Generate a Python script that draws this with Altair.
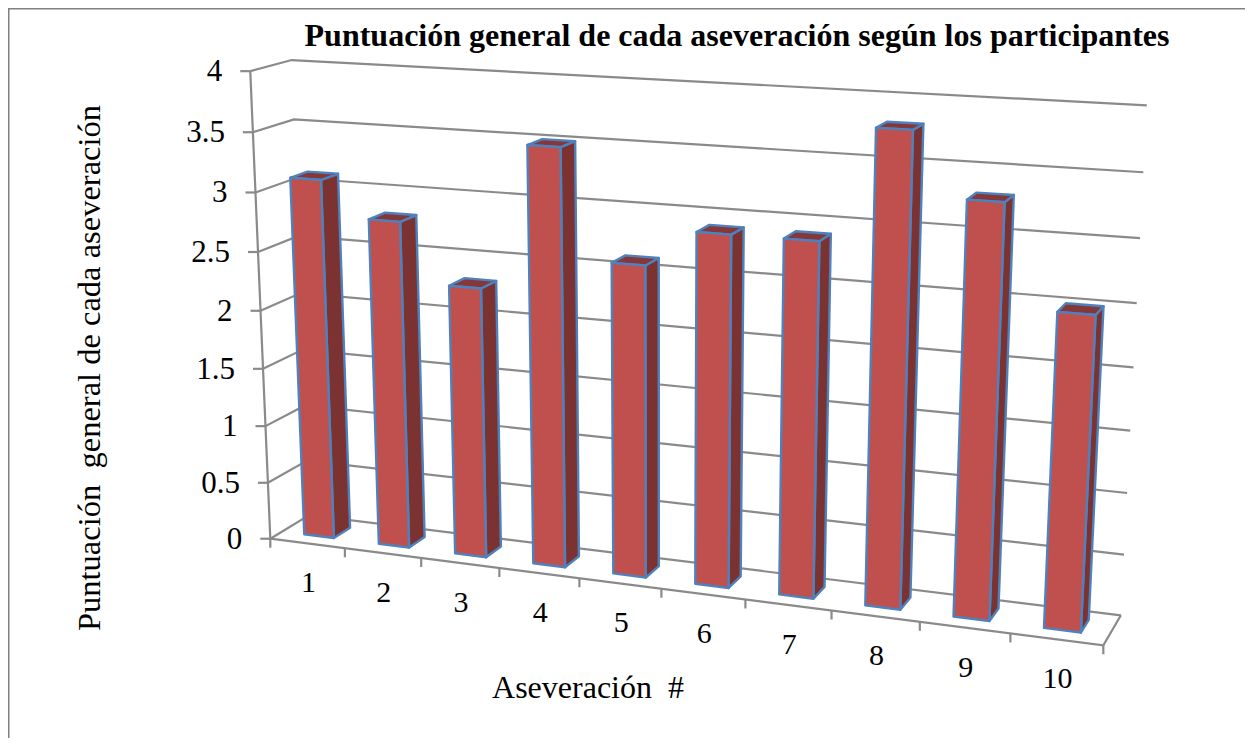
import altair as alt
import numpy as np
import pandas as pd

categories = ["1", "2", "3", "4", "5", "6", "7", "8", "9", "10"]
scores = [3.10, 2.80, 2.30, 3.50, 2.60, 2.90, 2.90, 3.80, 3.30, 2.50]
ticks = [0, 0.5, 1, 1.5, 2, 2.5, 3, 3.5, 4]
tick_labels = ["0", "0.5", "1", "1.5", "2", "2.5", "3", "3.5", "4"]
TITLE = "Puntuación general de cada aseveración según los participantes"
XTITLE = "Aseveración\u00a0 #"
YTITLE = "Puntuación\u00a0 general de cada aseveración"

W, H = 1237, 730   # plot area; page pixels are offset by the 8px margin
OFF = 8

# camera for the 3D look: (category, value, depth) -> page pixel
_cal = [
    ((0, 0, 0), (272.7, 537.3)), ((0, 4, 0), (248.3, 71.7)),
    ((0, 3.5, 0), (251.7, 132.3)), ((0, 3, 0), (255.3, 192.3)),
    ((0, 0, 1), (306, 516.7)), ((0, 4, 1), (293.3, 60)),
    ((0, 3.5, 1), (295.7, 119)),
    ((10, 0, 1), (1121, 614)), ((10, 4, 1), (1146.7, 105.3)),
    ((10, 3.5, 1), (1143.3, 172.3)),
    ((10, 0, 0), (1103.3, 646.7)), ((1, 0, 0), (345.7, 548)),
]
_A, _b = [], []
for (u, v, d), (px, py) in _cal:
    _A.append([u, v, d, 1, 0, 0, 0, 0, -px * u, -px * v, -px * d]); _b.append(px)
    _A.append([0, 0, 0, 0, u, v, d, 1, -py * u, -py * v, -py * d]); _b.append(py)
_P = np.linalg.lstsq(np.array(_A, float), np.array(_b, float), rcond=None)[0]


def proj(u, v, d):
    w = _P[8] * u + _P[9] * v + _P[10] * d + 1
    return ((_P[0] * u + _P[1] * v + _P[2] * d + _P[3]) / w,
            (_P[4] * u + _P[5] * v + _P[6] * d + _P[7]) / w)


def rows(gid, pts):
    out = []
    for k, (u, v, d) in enumerate(pts):
        x, y = proj(u, v, d)
        out.append({"gid": gid, "k": k, "x": x, "y": y})
    return out


GAP = 0.3
front, side, top, grid, wall = [], [], [], [], []
for i, s in enumerate(scores):
    a, b = i + GAP, i + 1 - GAP
    d0, d1 = 0.3, 0.73
    front += rows(i, [(a, 0, d0), (b, 0, d0), (b, s, d0), (a, s, d0)])
    side += rows(i, [(b, 0, d0), (b, 0, d1), (b, s, d1), (b, s, d0)])
    top += rows(i, [(a, s, d0), (b, s, d0), (b, s, d1), (a, s, d1)])

n = len(categories)
for j, t in enumerate(ticks):
    grid += rows(j, [(0, t, 0), (0, t, 1), (n, t, 1)])
wall += rows("axis", [(0, 0, 0), (0, ticks[-1], 0)])
wall += rows("floor", [(0, 0, 0), (n, 0, 0), (n, 0, 1)])

xs = alt.Scale(domain=[OFF, OFF + W], range=[0, W], nice=False, zero=False)
ys = alt.Scale(domain=[OFF, OFF + H], range=[0, H], nice=False, zero=False)
X = alt.X("x:Q", scale=xs, axis=None)
Y = alt.Y("y:Q", scale=ys, axis=None)


def df(r):
    return pd.DataFrame(r)


GRAY = "#8a8a8a"
EDGE = "#4f81bd"


def lines(r, color=GRAY, width=2.2):
    return alt.Chart(df(r)).mark_line(color=color, strokeWidth=width).encode(
        x=X, y=Y, detail="gid:N", order="k:Q")


def faces(r, fill):
    return alt.Chart(df(r)).mark_line(
        interpolate="linear-closed", fill=fill, stroke=EDGE, strokeWidth=2.4,
        strokeJoin="round").encode(x=X, y=Y, detail="gid:N", order="k:Q")


# tick marks
ytick, xtick = [], []
for j, t in enumerate(ticks):
    x, y = proj(0, t, 0)
    ytick += [{"gid": j, "k": 0, "x": x - 10, "y": y}, {"gid": j, "k": 1, "x": x, "y": y}]
for i in range(n + 1):
    x, y = proj(i, 0, 0)
    xtick += [{"gid": i, "k": 0, "x": x, "y": y}, {"gid": i, "k": 1, "x": x, "y": y + 9}]

ylab = [{"x": proj(0, t, 0)[0], "y": proj(0, t, 0)[1], "t": s} for t, s in zip(ticks, tick_labels)]
xlab = [{"x": proj(i + 0.5, 0, 0)[0], "y": proj(i + 0.5, 0, 0)[1], "t": c} for i, c in enumerate(categories)]

FONT = "Liberation Serif"
layers = [
    lines(grid), lines(wall), lines(ytick), lines(xtick),
    faces(side, "#7b3230"), faces(top, "#85383a"), faces(front, "#c0504d"),
    alt.Chart(df(ylab)).mark_text(font=FONT, fontSize=31, align="right", baseline="middle", dx=-28, dy=1, color="black").encode(x=X, y=Y, text="t:N"),
    alt.Chart(df(xlab)).mark_text(font=FONT, fontSize=30, align="center", baseline="middle", dx=1, dy=40, color="black").encode(x=X, y=Y, text="t:N"),
    alt.Chart(pd.DataFrame([{"x": 737, "y": 36, "t": TITLE}])).mark_text(font=FONT, fontSize=32, fontWeight="bold", align="center", baseline="middle", color="black").encode(x=X, y=Y, text="t:N"),
    alt.Chart(pd.DataFrame([{"x": 588, "y": 688, "t": XTITLE}])).mark_text(font=FONT, fontSize=32, align="center", baseline="middle", color="black").encode(x=X, y=Y, text="t:N"),
    alt.Chart(pd.DataFrame([{"x": 90, "y": 368, "t": YTITLE}])).mark_text(font=FONT, fontSize=32.5, angle=270, align="center", baseline="middle", color="black").encode(x=X, y=Y, text="t:N"),
    alt.Chart(df([{"gid": 0, "k": 0, "x": 8.5, "y": 738}, {"gid": 0, "k": 1, "x": 8.5, "y": 8.5}, {"gid": 0, "k": 2, "x": 1245, "y": 8.5}])).mark_line(color="#808080", strokeWidth=2).encode(x=X, y=Y, detail="gid:N", order="k:Q"),
]

chart = alt.layer(*layers).properties(
    width=W, height=H, padding=0, autosize=alt.AutoSizeParams(type="none"), background="white"
).configure_view(stroke=None)

chart.save("out.html", embed_options={"renderer": "svg", "actions": False})
